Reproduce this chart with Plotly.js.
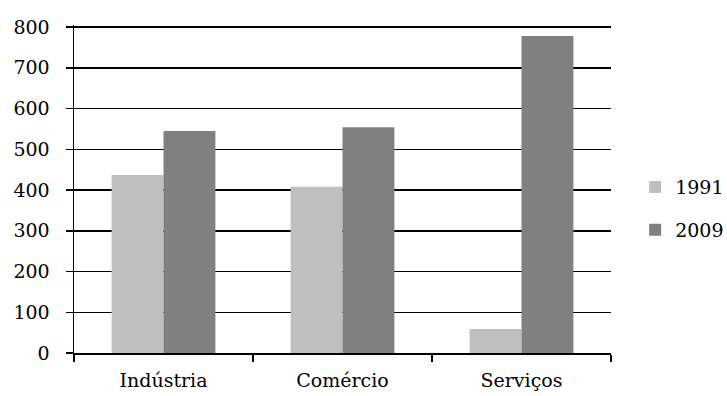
<!DOCTYPE html>
<html>
<head>
<meta charset="utf-8">
<script src="https://cdn.plot.ly/plotly-3.0.1.min.js"></script>
<style>
  html, body { margin: 0; padding: 0; background: #fff; }
  #chart { width: 727px; height: 396px; }
</style>
</head>
<body>
<div id="chart"></div>
<script>
const categories = ["Indústria", "Comércio", "Serviços"];
const values1991 = [437, 408, 59];
const values2009 = [545, 554, 778];
const seriesNames = ["1991", "2009"];
const yTicks = [0, 100, 200, 300, 400, 500, 600, 700, 800];

const FONT = "DejaVu Serif";
const yTop = yTicks[yTicks.length - 1];

const traces = [
  {
    type: "bar", name: seriesNames[0], x: categories, y: values1991,
    marker: { color: "#BFBFBF" }, legendgroup: "a", hoverinfo: "x+y"
  },
  {
    type: "bar", name: seriesNames[1], x: categories, y: values2009,
    marker: { color: "#808080" }, legendgroup: "b", hoverinfo: "x+y"
  }
];

const layout = {
  width: 727, height: 396,
  margin: { l: 74, r: 116, t: 25, b: 43, pad: 0, autoexpand: false },
  paper_bgcolor: "#fff", plot_bgcolor: "#fff",
  font: { family: FONT, size: 19, color: "#000" },
  barmode: "group", bargap: 0.42, bargroupgap: 0,
  showlegend: true,
  legend: {
    x: 1.045, xanchor: "left", y: 0.44, yanchor: "middle",
    traceorder: "grouped", tracegroupgap: 15,
    font: { family: FONT, size: 19, color: "#000" },
    bgcolor: "rgba(0,0,0,0)", borderwidth: 0
  },
  xaxis: {
    type: "category",
    showline: true, linecolor: "#000", linewidth: 1.5,
    ticks: "outside", tickson: "boundaries", ticklen: 7, tickwidth: 1.5, tickcolor: "#000",
    showgrid: false, zeroline: false,
    ticklabelstandoff: 10,
    tickfont: { family: FONT, size: 19, color: "#000" }
  },
  yaxis: {
    range: [0, yTop + 5], tickvals: yTicks, ticktext: yTicks.map(String),
    showline: true, linecolor: "#000", linewidth: 1.5,
    ticks: "outside", ticklen: 7, tickwidth: 1.5, tickcolor: "#000",
    showgrid: true, gridcolor: "#000", gridwidth: 1.5,
    zeroline: false,
    ticklabelstandoff: 12,
    tickfont: { family: FONT, size: 19, color: "#000" }
  },
  shapes: [
    {
      type: "line", layer: "above", xref: "paper", x0: 0, x1: 1,
      yref: "y", y0: yTop, y1: yTop,
      line: { color: "#000", width: 2 }
    }
  ]
};

Plotly.newPlot("chart", traces, layout, { displayModeBar: false, staticPlot: true });
</script>
</body>
</html>
